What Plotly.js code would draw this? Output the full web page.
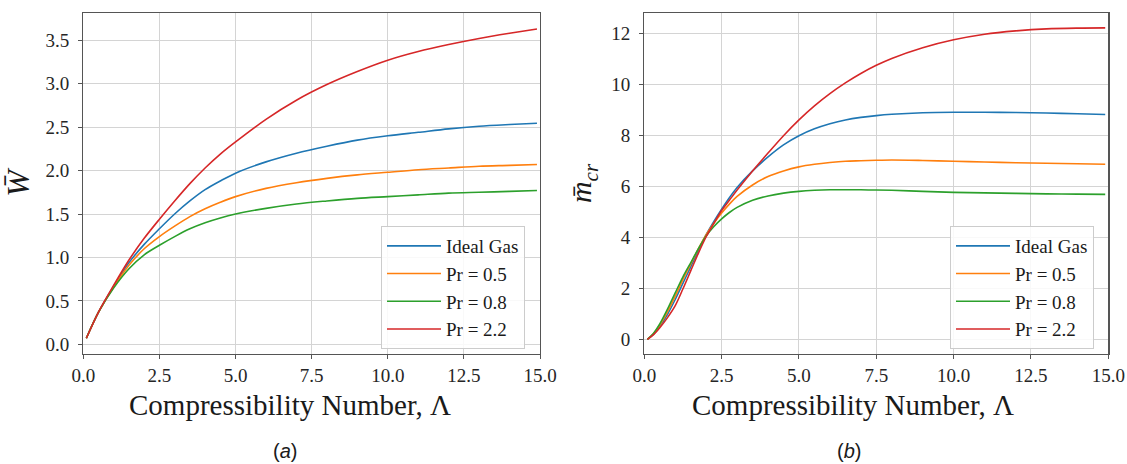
<!DOCTYPE html>
<html>
<head>
<meta charset="utf-8">
<script src="https://cdn.plot.ly/plotly-3.0.1.min.js"></script>
<style>
html,body{margin:0;padding:0;background:#fff;}
#chart{width:1127px;height:464px;}
#chart .xtick text, #chart .ytick text, #chart .x2tick text, #chart .y2tick text {font-family: 'Liberation Serif', serif !important;}
</style>
</head>
<body>
<div id="chart"></div>
<script>
// ---- Data ----
const seriesNames = ['Ideal Gas', 'Pr = 0.5', 'Pr = 0.8', 'Pr = 2.2'];

// (a) W-bar vs compressibility number
const lambdaA = [0.1, 0.5, 1, 1.5, 2, 2.5, 3, 3.5, 4, 4.5, 5, 6, 7, 8, 9, 10, 11, 12, 13, 14, 14.9];
const wIdeal = [0.07, 0.37, 0.67, 0.94, 1.15, 1.33, 1.50, 1.65, 1.78, 1.88, 1.97, 2.10, 2.20, 2.28, 2.35, 2.40, 2.44, 2.48, 2.51, 2.53, 2.545];
const wPr05  = [0.07, 0.37, 0.66, 0.91, 1.10, 1.24, 1.36, 1.47, 1.56, 1.635, 1.70, 1.795, 1.86, 1.91, 1.95, 1.98, 2.01, 2.03, 2.05, 2.06, 2.07];
const wPr08  = [0.07, 0.37, 0.65, 0.87, 1.03, 1.14, 1.24, 1.33, 1.40, 1.455, 1.50, 1.565, 1.615, 1.65, 1.68, 1.70, 1.72, 1.74, 1.75, 1.76, 1.77];
const wPr22  = [0.07, 0.37, 0.68, 0.97, 1.22, 1.44, 1.65, 1.85, 2.03, 2.19, 2.33, 2.59, 2.81, 2.99, 3.14, 3.27, 3.37, 3.45, 3.52, 3.58, 3.63];

// (b) m-bar_cr vs compressibility number
const lambdaB = [0.1, 0.3, 0.5, 0.75, 1, 1.25, 1.5, 1.75, 2, 2.25, 2.5, 2.75, 3, 3.5, 4, 4.5, 5, 5.5, 6, 6.5, 7, 7.5, 8, 9, 10, 11, 12, 13, 14, 14.9];
const mIdeal = [0.0, 0.20, 0.50, 0.98, 1.56, 2.20, 2.84, 3.48, 4.10, 4.62, 5.10, 5.55, 5.95, 6.60, 7.15, 7.62, 7.98, 8.25, 8.45, 8.60, 8.70, 8.77, 8.82, 8.88, 8.90, 8.90, 8.89, 8.87, 8.84, 8.81];
const mPr05  = [0.0, 0.22, 0.55, 1.08, 1.69, 2.35, 2.95, 3.55, 4.10, 4.55, 4.95, 5.30, 5.60, 6.05, 6.38, 6.60, 6.76, 6.86, 6.93, 6.98, 7.00, 7.02, 7.03, 7.01, 6.98, 6.95, 6.92, 6.90, 6.88, 6.86];
const mPr08  = [0.0, 0.24, 0.60, 1.18, 1.82, 2.45, 3.00, 3.55, 4.05, 4.42, 4.72, 4.97, 5.17, 5.45, 5.62, 5.73, 5.80, 5.84, 5.86, 5.86, 5.86, 5.85, 5.84, 5.80, 5.76, 5.74, 5.72, 5.70, 5.69, 5.68];
const mPr22  = [0.0, 0.18, 0.45, 0.85, 1.32, 1.98, 2.68, 3.38, 4.02, 4.55, 5.05, 5.45, 5.85, 6.60, 7.30, 7.98, 8.60, 9.15, 9.63, 10.05, 10.42, 10.74, 11.01, 11.43, 11.74, 11.96, 12.09, 12.17, 12.20, 12.21];

// Tick values / labels
const xTickVals = [0, 2.5, 5, 7.5, 10, 12.5, 15];
const xTickText = ['0.0', '2.5', '5.0', '7.5', '10.0', '12.5', '15.0'];
const yATickVals = [0, 0.5, 1, 1.5, 2, 2.5, 3, 3.5];
const yATickText = ['0.0', '0.5', '1.0', '1.5', '2.0', '2.5', '3.0', '3.5'];
const yBTickVals = [0, 2, 4, 6, 8, 10, 12];
const yBTickText = ['0', '2', '4', '6', '8', '10', '12'];

const xTitleText = 'Compressibility Number, Λ';
const captions = ['(<i>a</i>)', '(<i>b</i>)'];

const colors = ['#1f77b4', '#ff7f0e', '#2ca02c', '#d62728'];
const W = 1127, H = 464;
const serif = 'Liberation Serif';

const seriesA = [wIdeal, wPr05, wPr08, wPr22];
const seriesB = [mIdeal, mPr05, mPr08, mPr22];

const traces = [];
seriesA.forEach((ys, i) => traces.push({
  x: lambdaA, y: ys, name: seriesNames[i], type: 'scatter', mode: 'lines',
  line: {color: colors[i], width: 1.6, shape: 'spline', smoothing: 0.9},
  xaxis: 'x', yaxis: 'y', legend: 'legend', legendgroup: 'a' + i
}));
seriesB.forEach((ys, i) => traces.push({
  x: lambdaB, y: ys, name: seriesNames[i], type: 'scatter', mode: 'lines',
  line: {color: colors[i], width: 1.6, shape: 'spline', smoothing: 0.9},
  xaxis: 'x2', yaxis: 'y2', legend: 'legend2', legendgroup: 'b' + i
}));

const px = v => v / W;
const py = v => (H - v) / H;

function axisCommon() {
  return {
    showgrid: true, gridcolor: '#d4d4d4', gridwidth: 1,
    zeroline: false, showline: true, mirror: true, linecolor: '#555', linewidth: 1.3,
    ticks: 'outside', ticklen: 4, tickcolor: '#555', tickwidth: 1,
    tickfont: {family: serif, size: 19, color: '#262626'}
  };
}

function legendCommon() {
  return {
    bgcolor: 'rgba(255,255,255,0.85)', bordercolor: '#cccccc', borderwidth: 1,
    font: {family: serif, size: 19, color: '#1a1a1a'}, tracegroupgap: 0,
    xanchor: 'left', yanchor: 'top', itemwidth: 54
  };
}

const layout = {
  width: W, height: H,
  margin: {l: 0, r: 0, t: 0, b: 0},
  font: {family: serif, size: 19, color: '#262626'},
  paper_bgcolor: '#fff', plot_bgcolor: '#fff',
  showlegend: true,
  xaxis: Object.assign(axisCommon(), {domain: [px(83.3), px(540)], range: [0, 15], anchor: 'y',
    tickvals: xTickVals, ticktext: xTickText}),
  yaxis: Object.assign(axisCommon(), {domain: [py(353.7), py(13.3)], range: [-0.108, 3.81], anchor: 'x',
    tickvals: yATickVals, ticktext: yATickText, ticklabelstandoff: 5,
    title: {text: '<i>W̄</i>', font: {family: serif, size: 32, color: '#1a1a1a'}, standoff: 12}}),
  xaxis2: Object.assign(axisCommon(), {domain: [px(644.3), px(1108.3)], range: [0, 15], anchor: 'y2',
    tickvals: xTickVals, ticktext: xTickText}),
  yaxis2: Object.assign(axisCommon(), {domain: [py(353.7), py(13.3)], range: [-0.565, 12.78], anchor: 'x2',
    tickvals: yBTickVals, ticktext: yBTickText, ticklabelstandoff: 5,
    title: {text: '<i>m̄</i><sub><i>cr</i></sub>', font: {family: serif, size: 30, color: '#1a1a1a'}, standoff: 10}}),
  legend: Object.assign(legendCommon(), {x: px(381), y: py(226)}),
  legend2: Object.assign(legendCommon(), {x: px(950), y: py(226)}),
  annotations: [
    {text: xTitleText, xref: 'paper', yref: 'paper', x: px(290), y: py(405), showarrow: false,
     font: {family: serif, size: 29, color: '#1a1a1a'}, xanchor: 'center', yanchor: 'middle'},
    {text: xTitleText, xref: 'paper', yref: 'paper', x: px(853), y: py(405), showarrow: false,
     font: {family: serif, size: 29, color: '#1a1a1a'}, xanchor: 'center', yanchor: 'middle'},
    {text: captions[0], xref: 'paper', yref: 'paper', x: px(285), y: py(451), showarrow: false,
     font: {family: 'Liberation Sans', size: 20, color: '#1a1a1a'}, xanchor: 'center', yanchor: 'middle'},
    {text: captions[1], xref: 'paper', yref: 'paper', x: px(849), y: py(451), showarrow: false,
     font: {family: 'Liberation Sans', size: 20, color: '#1a1a1a'}, xanchor: 'center', yanchor: 'middle'}
  ]
};

Plotly.newPlot('chart', traces, layout, {displayModeBar: false, staticPlot: true});
</script>
</body>
</html>
